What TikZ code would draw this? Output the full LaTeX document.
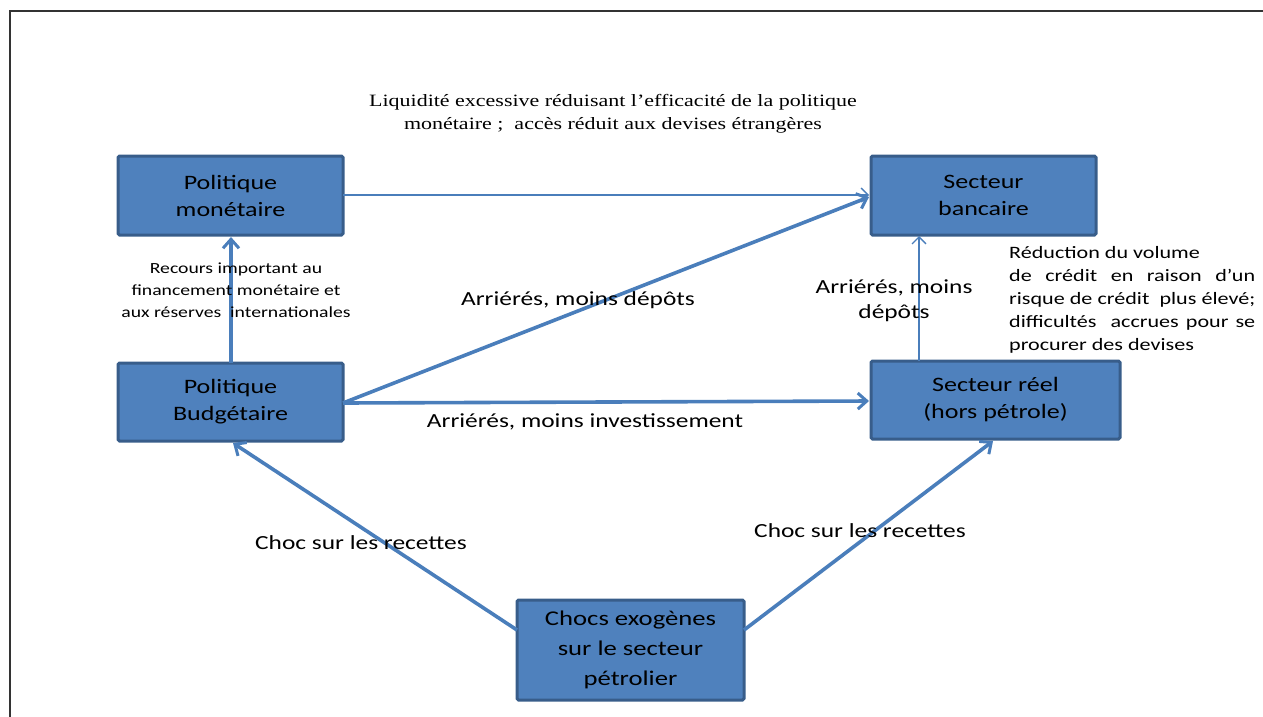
\documentclass[tikz,border=0pt]{standalone}
\usepackage{fontspec}
\setmainfont{Carlito}[FakeStretch=1.27]
\newfontfamily\serifface{Liberation Serif}[FakeStretch=1.27]
\usetikzlibrary{arrows.meta}
\definecolor{boxfill}{HTML}{4F81BD}
\definecolor{boxline}{HTML}{385D8A}
\definecolor{arrowcol}{HTML}{4A7EBB}
\newcommand{\fullline}[1]{\makebox[246pt][s]{#1}}
\tikzset{
  box/.style={draw=boxline, line width=3pt, fill=boxfill, rounded corners=1.5pt,
    minimum width=#1, inner sep=0pt, align=center, font=\fontsize{20.5}{27}\selectfont, text=black},
  thick arrow/.style={draw=arrowcol, line width=3.6pt, -{Straight Barb[length=9pt,width=16pt,line width=3pt]}},
  thin arrow/.style={draw=arrowcol, line width=1.3pt, -{Straight Barb[length=7pt,width=14pt,line width=1.3pt]}},
  lbl/.style={font=\fontsize{20}{25}\selectfont, text=black, align=center, inner sep=0pt},
  smalllbl/.style={font=\fontsize{15.5}{22}\selectfont, text=black, align=center, inner sep=0pt},
}
\begin{document}
\begin{tikzpicture}[x=1pt,y=-1pt]
\useasboundingbox (0,0) rectangle (1263,716);
\draw[line width=2.2pt, black!80] (10,720) -- (10,11) -- (1270,11);

\node[box=225pt, minimum height=79pt] (pm) at (230.5,195.5) {Politique\\monétaire};
\node[box=225pt, minimum height=79pt] (sb) at (983.5,195.5) {Secteur\\bancaire};
\node[box=225pt, minimum height=78pt] (pb) at (230.5,402) {Politique\\Budgétaire};
\node[box=249pt, minimum height=78pt] (sr) at (995.5,400) {Secteur réel\\(hors pétrole)};
\node[box=227pt, minimum height=100pt, font=\fontsize{21}{30}\selectfont] (ch) at (630.5,650) {Chocs exogènes\\sur le secteur\\pétrolier};

\coordinate (pbtop) at (231,363);
\coordinate (pmbot) at (231,237);
\coordinate (pbr) at (343,403);
\coordinate (sbl1) at (869,197);
\coordinate (srl) at (869,401);
\coordinate (srtop) at (919,361);
\coordinate (sbbot) at (919,236);
\coordinate (pmr) at (343,195);
\coordinate (sbl2) at (869,195);
\coordinate (chl) at (517,630);
\coordinate (pbbot) at (233,443);
\coordinate (chr) at (744,630);
\coordinate (srbot) at (993,441);

\draw[thin arrow] (pmr) -- (sbl2);
\draw[thick arrow] (pbtop) -- (pmbot);
\draw[thick arrow] (pbr) -- (sbl1);
\draw[thick arrow] (pbr) -- (srl);
\draw[thin arrow] (srtop) -- (sbbot);
\draw[thick arrow] (chl) -- (pbbot);
\draw[thick arrow] (chr) -- (srbot);

\node[font=\serifface\fontsize{17.3}{23}\selectfont, align=center, inner sep=0pt] (liq) at (613,114)
  {Liquidité excessive réduisant l’efficacité de la politique\\monétaire ;\ \ accès réduit aux devises étrangères};
\node[smalllbl] (rec) at (236,290) {Recours important au\\financement monétaire et\\aux réserves\ \ internationales};
\node[lbl] (amd) at (578,300) {Arriérés, moins dépôts};
\node[lbl] (amd2) at (894,301) {Arriérés, moins\\dépôts};
\node[lbl] (ami) at (585,422) {Arriérés, moins investissement};
\node[lbl] (csr1) at (361,543) {Choc sur les recettes};
\node[lbl] (csr2) at (860,531) {Choc sur les recettes};
\node[smalllbl, align=left, anchor=north west, font=\fontsize{17.4}{23}\selectfont] (red) at (1009,246)
  {Réduction du volume\\
   \fullline{de\ \ crédit\ \ en\ \ raison\ \ d’un}\\
   \fullline{risque de crédit\ \ plus élevé;}\\
   \fullline{difficultés\ \ accrues pour se}\\
   procurer des devises};
\end{tikzpicture}
\end{document}
